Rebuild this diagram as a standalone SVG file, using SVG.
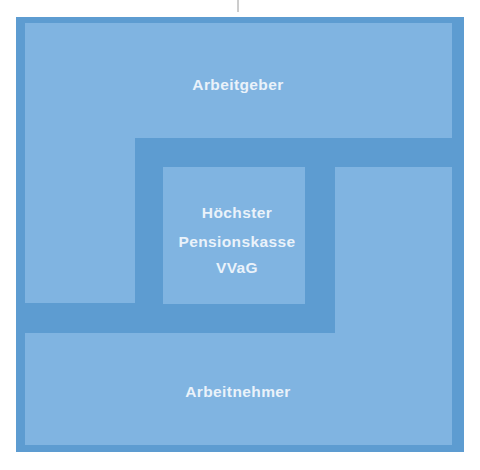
<svg xmlns="http://www.w3.org/2000/svg" width="480" height="470" viewBox="0 0 480 470">
<style>
.frame{fill:#5d9cd1}
.area{fill:#80b4e1}
.lbl{font-family:"Liberation Sans",Arial,sans-serif;font-weight:bold;font-size:15.5px;fill:#eaf2fa;text-anchor:middle;letter-spacing:0.4px}
</style>
<rect x="0" y="0" width="480" height="470" fill="#ffffff"/>
<line x1="238" y1="0" x2="238" y2="12" stroke="#9a9a9a" stroke-width="1"/>
<rect class="frame" x="16" y="17" width="448" height="435"/>
<g id="arbeitgeber">
<path class="area" d="M25,23 H452 V138 H135 V303 H25 Z"/>
<text class="lbl" x="238" y="90">Arbeitgeber</text>
</g>
<g id="arbeitnehmer">
<path class="area" d="M335,167 H452 V445 H25 V333 H335 Z"/>
<text class="lbl" x="238" y="397">Arbeitnehmer</text>
</g>
<g id="pensionskasse">
<rect class="area" x="163" y="167" width="142" height="137"/>
<text class="lbl" x="237" y="218">Höchster</text>
<text class="lbl" x="237" y="247">Pensionskasse</text>
<text class="lbl" x="237" y="273">VVaG</text>
</g>
<g id="connectors"></g>
</svg>
